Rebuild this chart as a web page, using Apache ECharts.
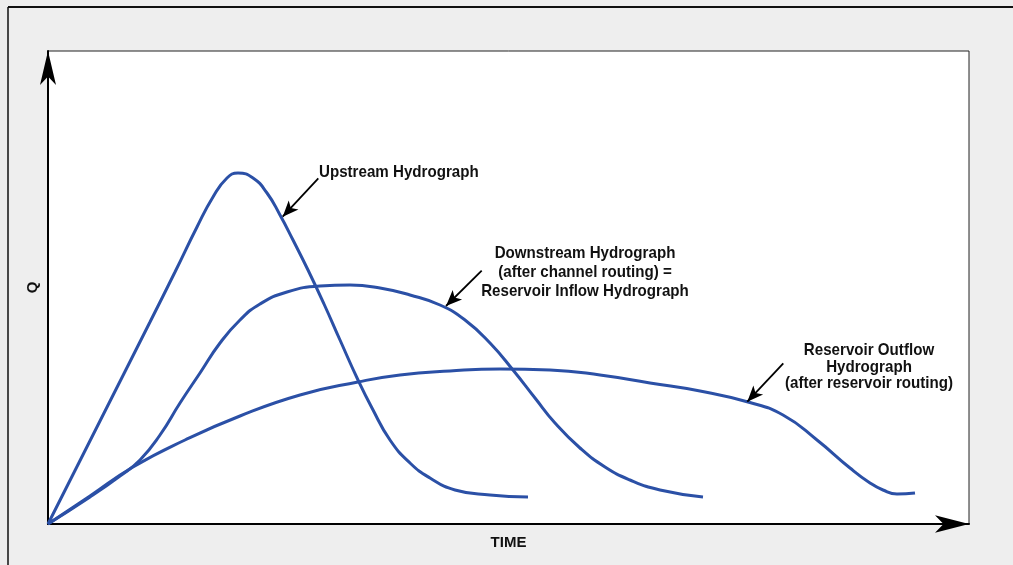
<!DOCTYPE html>
<html>
<head>
<meta charset="utf-8">
<script src="https://cdn.jsdelivr.net/npm/echarts@6/dist/echarts.min.js"></script>
<style>html,body{margin:0;padding:0;background:#eeeeee;}#c{width:1013px;height:565px;}</style>
</head>
<body>
<div id="c"></div>
<script>
// Values (arbitrary time / discharge units)
const upstream = [[0,0],[52,103],[102,202],[127,252],[149,297],[165,327],[179,346],[190,351],[205,346],[219,331],[232,309],[245,284],[260,254],[276,220],[292,184],[310,144],[324,116],[342,84],[362,61],[382,46],[407,34],[442,29],[480,27]];
const downstream = [[0,0],[42,27],[72,48],[92,64],[112,89],[132,121],[152,151],[172,181],[192,204],[212,220],[239,232],[272,238],[302,239],[332,236],[362,229],[392,219],[417,204],[442,181],[465,154],[487,126],[507,101],[532,76],[557,57],[582,44],[612,34],[655,27]];
const outflow = [[0,0],[42,28],[85,57],[137,84],[192,108],[252,129],[310,142],[352,149],[402,153],[452,155],[502,154],[552,149],[602,141],[652,133],[700,122],[735,109],[769,84],[802,56],[822,41],[835,34],[849,30],[867,31]];
const arrows = [
  [[270.3,345.7],[234.7,307.3]],
  [[433.7,253.3],[398,218]],
  [[735.3,160.7],[699.3,122.3]]
];
const labels = {
  up: 'Upstream Hydrograph',
  down: 'Downstream Hydrograph\n(after channel routing) =\nReservoir Inflow Hydrograph',
  out: 'Reservoir Outflow\nHydrograph\n(after reservoir routing)'
};
const xMax = 921, yMax = 473;

const blue = '#2b50a6';
const font = '"Liberation Sans", Arial, sans-serif';
const chart = echarts.init(document.getElementById('c'));
const lineSeries = (name, data) => ({
  name, type: 'line', data, smooth: 0.5, showSymbol: false, symbol: 'none',
  lineStyle: { color: blue, width: 3 }, silent: true, animation: false
});
const s1 = lineSeries('Upstream', upstream);
s1.markLine = {
  silent: true, animation: false,
  symbol: ['none', 'arrow'], symbolSize: [10, 16],
  label: { show: false },
  lineStyle: { color: '#000', width: 1.8, type: 'solid' },
  data: arrows.map(a => [{ coord: a[0] }, { coord: a[1] }])
};
chart.setOption({
  backgroundColor: '#eeeeee',
  animation: false,
  grid: { left: 48, top: 51, right: 44, bottom: 41, show: true, backgroundColor: '#ffffff', borderColor: '#222', borderWidth: 1 },
  xAxis: {
    type: 'value', min: 0, max: xMax,
    name: 'TIME', nameLocation: 'middle', nameGap: 11,
    nameTextStyle: { fontFamily: font, fontWeight: 'bold', fontSize: 15, color: '#111' },
    axisLine: { show: true, lineStyle: { color: '#000', width: 2 }, symbol: ['none', 'arrow'], symbolSize: [13, 34], symbolOffset: [0, 0] },
    axisTick: { show: false }, axisLabel: { show: false }, splitLine: { show: false }
  },
  yAxis: {
    type: 'value', min: 0, max: yMax,
    name: 'Q', nameLocation: 'middle', nameGap: 8, nameRotate: 90,
    nameTextStyle: { fontFamily: font, fontWeight: 'bold', fontSize: 15, color: '#111' },
    axisLine: { show: true, lineStyle: { color: '#000', width: 2 }, symbol: ['none', 'arrow'], symbolSize: [12, 34], symbolOffset: [0, 0] },
    axisTick: { show: false }, axisLabel: { show: false }, splitLine: { show: false }
  },
  graphic: [
    { type: 'line', shape: { x1: 8, y1: 7, x2: 1013, y2: 7 }, style: { stroke: '#111', lineWidth: 2 }, silent: true },
    { type: 'line', shape: { x1: 8, y1: 7, x2: 8, y2: 565 }, style: { stroke: '#111', lineWidth: 1.5 }, silent: true },
    { type: 'text', x: 319, y: 172, scaleX: 0.89, z: 100, silent: true,
      style: { text: labels.up, font: 'bold 17px ' + font, fill: '#111', textAlign: 'left', textVerticalAlign: 'middle' } },
    { type: 'text', x: 585, y: 272, scaleX: 0.89, z: 100, silent: true,
      style: { text: labels.down, font: 'bold 17px ' + font, lineHeight: 19, fill: '#111', textAlign: 'center', textVerticalAlign: 'middle' } },
    { type: 'text', x: 869, y: 367, scaleX: 0.89, z: 100, silent: true,
      style: { text: labels.out, font: 'bold 17px ' + font, lineHeight: 16.5, fill: '#111', textAlign: 'center', textVerticalAlign: 'middle' } }
  ],
  series: [s1, lineSeries('Downstream', downstream), lineSeries('Outflow', outflow)]
});
</script>
</body>
</html>
